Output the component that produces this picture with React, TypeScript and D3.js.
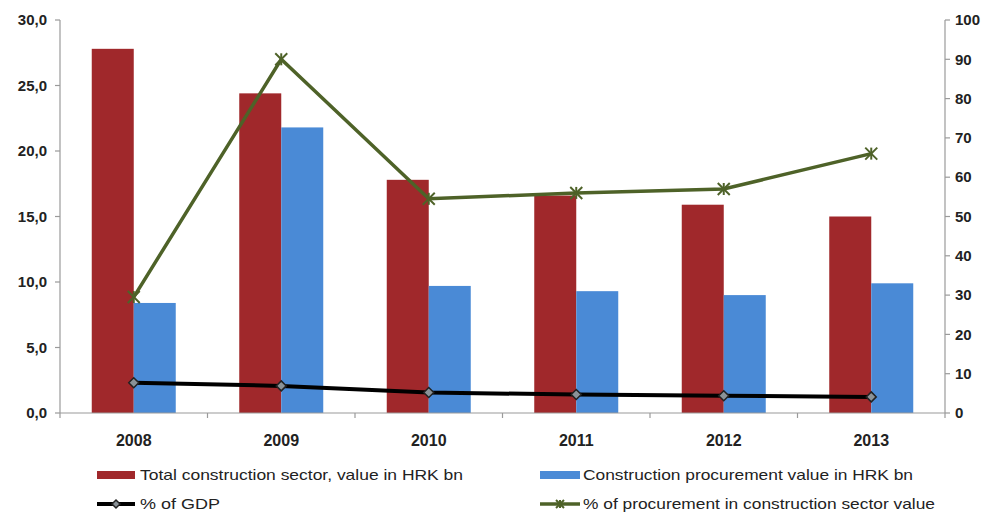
import React from "react";
import * as d3 from "d3";

const years = ["2008", "2009", "2010", "2011", "2012", "2013"];
const totalConstruction = [27.8, 24.4, 17.8, 16.6, 15.9, 15.0];
const procurementValue = [8.4, 21.8, 9.7, 9.3, 9.0, 9.9];
const pctGDP = [7.7, 6.9, 5.2, 4.7, 4.4, 4.1];
const pctProcurement = [29.5, 90.0, 54.5, 56.0, 57.0, 66.0];
const leftTicks = [0, 5, 10, 15, 20, 25, 30];
const rightTicks = [0, 10, 20, 30, 40, 50, 60, 70, 80, 90, 100];

const W = 996;
const H = 514;
const left = 60;
const right = 945;
const top = 20;
const bottom = 413;
const RED = "#a0282b";
const BLUE = "#4a8ad6";
const GREEN = "#4e6228";
const AXIS = "#9a9a9a";
const FONT = "'Liberation Sans', Arial, sans-serif";

function StarMarker({ x, y, s = 6 }: { x: number; y: number; s?: number }) {
  return (
    <g stroke={GREEN} strokeWidth={2}>
      <line x1={x - s} y1={y - s} x2={x + s} y2={y + s} />
      <line x1={x - s} y1={y + s} x2={x + s} y2={y - s} />
      <line x1={x} y1={y - s} x2={x} y2={y + s} />
    </g>
  );
}

function DiamondMarker({ x, y, s = 5 }: { x: number; y: number; s?: number }) {
  return (
    <path
      d={`M${x},${y - s}L${x + s},${y}L${x},${y + s}L${x - s},${y}Z`}
      fill="#8a9298"
      stroke="#222"
      strokeWidth={1.5}
    />
  );
}

export default function App() {
  const x0 = d3.scaleBand<string>().domain(years).range([left, right]).paddingInner(0).paddingOuter(0);
  const bw = 42;
  const yL = d3.scaleLinear().domain([0, 30]).range([bottom, top]);
  const yR = d3.scaleLinear().domain([0, 100]).range([bottom, top]);
  const cx = (y: string) => (x0(y) as number) + x0.bandwidth() / 2;

  const lineGDP = d3
    .line<number>()
    .x((_, i) => cx(years[i]))
    .y((d) => yR(d));
  const boundaries = d3.range(years.length + 1).map((i) => left + i * x0.bandwidth());

  return (
    <svg width={W} height={H} style={{ position: "absolute", left: 0, top: 0 }} fontFamily={FONT}>
      <rect width={W} height={H} fill="#fff" />
      {years.map((y, i) => (
        <g key={y}>
          <rect x={cx(y) - bw} y={yL(totalConstruction[i])} width={bw} height={bottom - yL(totalConstruction[i])} fill={RED} />
          <rect x={cx(y)} y={yL(procurementValue[i])} width={bw} height={bottom - yL(procurementValue[i])} fill={BLUE} />
        </g>
      ))}
      {/* axes */}
      <line x1={left} y1={top} x2={left} y2={bottom} stroke={AXIS} strokeWidth={1.2} />
      <line x1={right} y1={top} x2={right} y2={bottom} stroke={AXIS} strokeWidth={1.2} />
      <line x1={left} y1={bottom} x2={right} y2={bottom} stroke={AXIS} strokeWidth={1.2} />
      {boundaries.map((b, i) => (
        <line key={i} x1={b} y1={bottom} x2={b} y2={bottom + 5} stroke={AXIS} strokeWidth={1.2} />
      ))}
      {leftTicks.map((t) => (
        <g key={t}>
          <line x1={left - 5} y1={yL(t)} x2={left} y2={yL(t)} stroke={AXIS} strokeWidth={1.2} />
          <text x={47} y={yL(t)} dy="0.35em" textAnchor="end" fontSize={15} fontWeight="bold" fill="#222">
            {t.toFixed(1).replace(".", ",")}
          </text>
        </g>
      ))}
      {rightTicks.map((t) => (
        <g key={t}>
          <line x1={right} y1={yR(t)} x2={right + 5} y2={yR(t)} stroke={AXIS} strokeWidth={1.2} />
          <text x={955} y={yR(t)} dy="0.35em" textAnchor="start" fontSize={15} fontWeight="bold" fill="#222">
            {t}
          </text>
        </g>
      ))}
      {years.map((y) => (
        <text key={y} x={cx(y)} y={440} dy="0.35em" textAnchor="middle" fontSize={16} fontWeight="bold" fill="#222">
          {y}
        </text>
      ))}
      {/* lines */}
      <path d={lineGDP(pctGDP) || ""} fill="none" stroke="#000" strokeWidth={4} />
      {pctGDP.map((v, i) => (
        <DiamondMarker key={i} x={cx(years[i])} y={yR(v)} />
      ))}
      <path d={lineGDP(pctProcurement) || ""} fill="none" stroke={GREEN} strokeWidth={3.5} />
      {pctProcurement.map((v, i) => (
        <StarMarker key={i} x={cx(years[i])} y={yR(v)} />
      ))}
      {/* legend */}
      <rect x={97} y={471} width={38} height={8} fill={RED} />
      <text x={140} y={475} dy="0.35em" fontSize={15} fill="#222" textLength={323} lengthAdjust="spacingAndGlyphs">
        Total construction sector, value in HRK bn
      </text>
      <rect x={540} y={471} width={40} height={8} fill={BLUE} />
      <text x={583} y={475} dy="0.35em" fontSize={15} fill="#222" textLength={330} lengthAdjust="spacingAndGlyphs">
        Construction procurement value in HRK bn
      </text>
      <line x1={97} y1={504} x2={135} y2={504} stroke="#000" strokeWidth={4} />
      <DiamondMarker x={116} y={504} s={4} />
      <text x={140} y={504} dy="0.35em" fontSize={15} fill="#222" textLength={80} lengthAdjust="spacingAndGlyphs">
        % of GDP
      </text>
      <line x1={540} y1={504} x2={580} y2={504} stroke={GREEN} strokeWidth={3.5} />
      <StarMarker x={560} y={504} s={4} />
      <text x={583} y={504} dy="0.35em" fontSize={15} fill="#222" textLength={352} lengthAdjust="spacingAndGlyphs">
        % of procurement in construction sector value
      </text>
    </svg>
  );
}
